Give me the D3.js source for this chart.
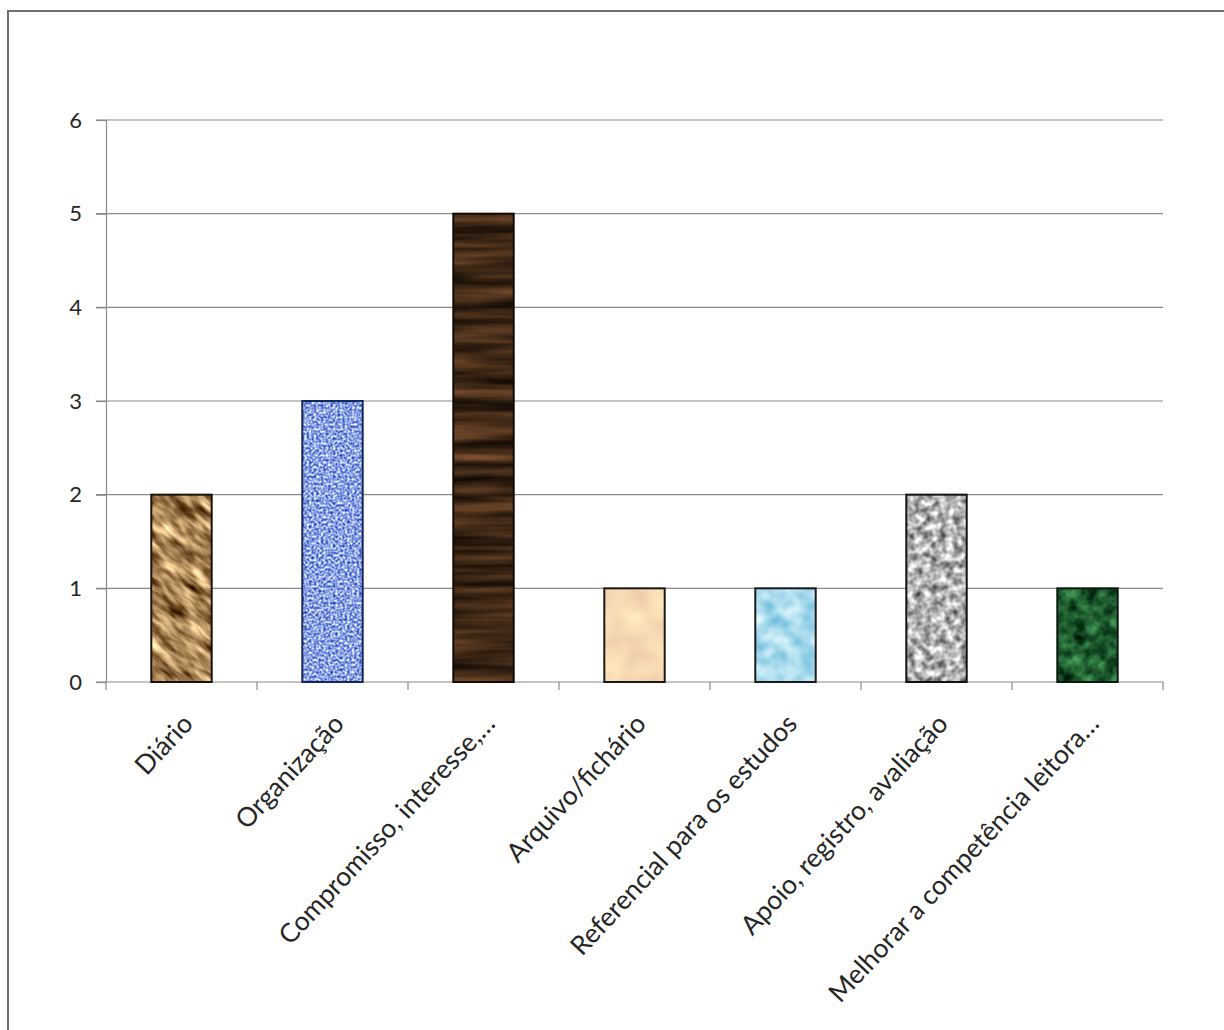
<!DOCTYPE html>
<html>
<head>
<meta charset="utf-8">
<script src="https://cdn.jsdelivr.net/npm/d3@7"></script>
<style>
  html, body { margin: 0; padding: 0; background: #fff; }
  svg { display: block; }
  text { font-family: Lato, "Open Sans", sans-serif; fill: #262626; }
</style>
</head>
<body>
<svg id="chart" width="1224" height="1030"></svg>
<script>
// Categories and counts
const categories = [
  "Diário",
  "Organização",
  "Compromisso, interesse,…",
  "Arquivo/fichário",
  "Referencial para os estudos",
  "Apoio, registro, avaliação",
  "Melhorar a competência leitora…"
];
const values = [2, 3, 5, 1, 1, 2, 1];
const yTicks = [0, 1, 2, 3, 4, 5, 6];

// Texture per bar: noise frequency, grain angle and the dark/light colour range
const textures = [
  { id: "tex-wood",   freq: "0.035 0.12", oct: 3, rot: 40, dark: [0.42, 0.28, 0.13], light: [0.90, 0.75, 0.54], stroke: "#1a120a" },
  { id: "tex-dots",   freq: "0.42 0.42", oct: 1, rot: 0,  dark: [0.28, 0.40, 0.80], light: [0.82, 0.87, 0.99], stroke: "#14285e" },
  { id: "tex-dark",   freq: "0.006 0.08", oct: 3, rot: 0, dark: [0.13, 0.08, 0.04], light: [0.36, 0.23, 0.13], stroke: "#120a04" },
  { id: "tex-peach",  freq: "0.04 0.04", oct: 2, rot: 0,  dark: [0.95, 0.82, 0.68], light: [0.99, 0.89, 0.72], stroke: "#1a1a1a" },
  { id: "tex-sky",    freq: "0.06 0.06", oct: 2, rot: 0,  dark: [0.55, 0.80, 0.90], light: [0.80, 0.93, 0.97], stroke: "#1a1a1a" },
  { id: "tex-stone",  freq: "0.13 0.13", oct: 2, rot: 0,  dark: [0.50, 0.50, 0.50], light: [0.90, 0.90, 0.90], stroke: "#111" },
  { id: "tex-marble", freq: "0.07 0.07", oct: 3, rot: 0,  dark: [0.04, 0.22, 0.10], light: [0.20, 0.50, 0.27], stroke: "#0a1a0e" }
];

const svg = d3.select("#chart");
const margin = { left: 106, right: 61, top: 120, bottom: 348 };
const W = 1224, H = 1030;

const xb = d3.scaleBand()
  .domain(categories)
  .range([margin.left, W - margin.right]);
const barW = xb.bandwidth() / 2.5;

const y = d3.scaleLinear().domain([0, 6]).range([H - margin.bottom, margin.top]);

// Noise textures: a filter coloured by a matrix, wrapped in a (possibly rotated) pattern
const defs = svg.append("defs");
const TILE = 1400;
textures.forEach(t => {
  const f = defs.append("filter").attr("id", t.id + "-f")
    .attr("filterUnits", "userSpaceOnUse")
    .attr("color-interpolation-filters", "sRGB")
    .attr("x", 0).attr("y", 0).attr("width", TILE).attr("height", TILE);
  f.append("feTurbulence").attr("type", "fractalNoise")
    .attr("baseFrequency", t.freq).attr("numOctaves", t.oct).attr("seed", 5).attr("result", "n");
  const lo = 0.33, hi = 0.67;
  const row = i => {
    const s = (t.light[i] - t.dark[i]) / (hi - lo);
    const c = t.dark[i] - lo * s;
    return [s, 0, 0, 0, c];
  };
  const m = [...row(0), ...row(1), ...row(2), 0, 0, 0, 0, 1];
  f.append("feColorMatrix").attr("in", "n").attr("type", "matrix")
    .attr("values", m.join(" ")).attr("result", "c");
  f.append("feComposite").attr("in", "c").attr("in2", "SourceGraphic").attr("operator", "in");

  const p = defs.append("pattern").attr("id", t.id)
    .attr("patternUnits", "userSpaceOnUse")
    .attr("x", 0).attr("y", 0).attr("width", TILE).attr("height", TILE)
    .attr("patternTransform", `rotate(${t.rot})`);
  p.append("rect").attr("x", 0).attr("y", 0).attr("width", TILE).attr("height", TILE)
    .attr("fill", "#000").attr("filter", `url(#${t.id}-f)`);
});

// Outer frame
svg.append("rect")
  .attr("x", 8).attr("y", 11).attr("width", 1300).attr("height", 1100)
  .attr("fill", "none").attr("stroke", "#707070").attr("stroke-width", 2);

// Horizontal gridlines
svg.append("g")
  .selectAll("line").data(yTicks.slice(1)).join("line")
  .attr("x1", margin.left - 10).attr("x2", W - margin.right)
  .attr("y1", d => y(d)).attr("y2", d => y(d))
  .attr("stroke", "#8a8a8a").attr("stroke-width", 1.2);

// Y axis
const yAxis = svg.append("g")
  .attr("transform", `translate(${margin.left},0)`)
  .call(d3.axisLeft(y).tickValues(yTicks).tickFormat(d3.format("d")).tickSize(10).tickPadding(14));
yAxis.select(".domain").attr("stroke", "#8a8a8a").attr("stroke-width", 1.2);
yAxis.selectAll(".tick line").attr("stroke", "#8a8a8a").attr("stroke-width", 1.2);
yAxis.selectAll(".tick text").style("font-size", "22px").attr("fill", "#262626");

// X axis line and ticks at category boundaries
const xAxis = svg.append("g")
  .attr("transform", `translate(0,${y(0)})`);
xAxis.append("line")
  .attr("x1", margin.left - 10).attr("x2", W - margin.right)
  .attr("stroke", "#8a8a8a").attr("stroke-width", 1.2);
const bounds = categories.map(c => xb(c)).concat([xb(categories[categories.length - 1]) + xb.bandwidth()]);
xAxis.selectAll("line.tk").data(bounds).join("line").attr("class", "tk")
  .attr("x1", d => d).attr("x2", d => d).attr("y1", 0).attr("y2", 8)
  .attr("stroke", "#8a8a8a").attr("stroke-width", 1.2);

// Bars
svg.append("g").selectAll("rect").data(categories).join("rect")
  .attr("x", d => xb(d) + xb.bandwidth() / 2 - barW / 2)
  .attr("y", (d, i) => y(values[i]))
  .attr("width", barW)
  .attr("height", (d, i) => y(0) - y(values[i]))
  .attr("fill", (d, i) => `url(#${textures[i].id})`)
  .attr("stroke", (d, i) => textures[i].stroke)
  .attr("stroke-width", 2);

// Rotated category labels
svg.append("g").selectAll("text").data(categories).join("text")
  .attr("transform", d => `translate(${xb(d) + xb.bandwidth() / 2 - 1},712) rotate(-47)`)
  .attr("text-anchor", "end")
  .attr("dy", "0.72em")
  .style("font-size", "26.5px")
  .text(d => d);
</script>
</body>
</html>
